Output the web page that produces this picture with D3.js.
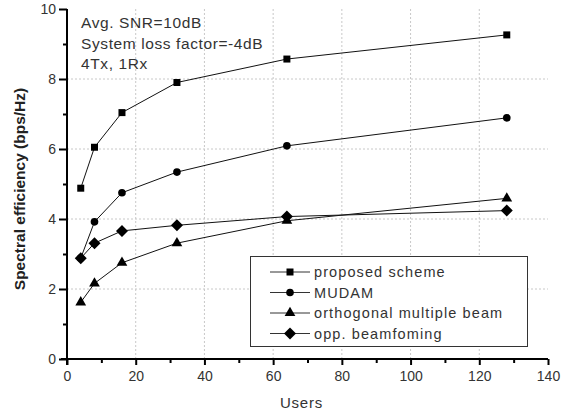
<!DOCTYPE html>
<html>
<head>
<meta charset="utf-8">
<script src="https://cdn.jsdelivr.net/npm/d3@7"></script>
<style>
  body { margin: 0; background: #fff; }
  text { font-family: "Liberation Sans", Arial, sans-serif; }
</style>
</head>
<body>
<svg id="chart"></svg>
<script>
// Data
const users = [4, 8, 16, 32, 64, 128];
const proposed = [4.88, 6.05, 7.04, 7.9, 8.57, 9.26];
const mudam = [2.88, 3.92, 4.75, 5.34, 6.09, 6.89];
const orthogonal = [1.62, 2.16, 2.75, 3.31, 3.95, 4.59];
const oppBeam = [2.88, 3.31, 3.66, 3.82, 4.07, 4.24];
const seriesNames = ["proposed scheme", "MUDAM", "orthogonal multiple beam", "opp. beamfoming"];
const markers = ["square", "circle", "triangle", "diamond"];
const notes = ["Avg. SNR=10dB", "System loss factor=-4dB", "4Tx, 1Rx"];
const xTicks = [0, 20, 40, 60, 80, 100, 120, 140];
const yTicks = [0, 2, 4, 6, 8, 10];

const width = 569;
const height = 417;
const svg = d3.select("#chart")
    .attr("width", width)
    .attr("height", height);

const x = d3.scaleLinear().domain([0, 140]).range([67, 548]);
const y = d3.scaleLinear().domain([0, 10]).range([359, 9]);

// Dotted grid
svg.append("g")
    .selectAll("line")
    .data(xTicks.filter(d => d > 0 && d < 140))
    .join("line")
    .attr("x1", d => x(d)).attr("x2", d => x(d))
    .attr("y1", y(10)).attr("y2", y(0))
    .attr("stroke", "#c8c8c8")
    .attr("stroke-dasharray", "2,2");

svg.append("g")
    .selectAll("line")
    .data(yTicks.filter(d => d > 0 && d < 10))
    .join("line")
    .attr("x1", x(0)).attr("x2", x(140))
    .attr("y1", d => y(d)).attr("y2", d => y(d))
    .attr("stroke", "#c8c8c8")
    .attr("stroke-dasharray", "2,2");

// Axes
const xAxis = svg.append("g")
    .attr("transform", `translate(0,${y(0)})`)
    .call(d3.axisBottom(x).tickValues(d3.range(0, 141, 10)).tickSize(6).tickFormat(d => d % 20 === 0 ? d : ""));
xAxis.select(".domain").attr("stroke", "#000").attr("stroke-width", 2).attr("d", `M${x(0) - 6},0H${x(140)}`);
xAxis.selectAll(".tick line").attr("stroke", "#000").attr("stroke-width", 2)
    .attr("y2", d => d % 20 === 0 ? 6 : 4);
xAxis.selectAll(".tick text").attr("fill", "#333").attr("font-size", 14).attr("dy", "0.95em");

const yAxis = svg.append("g")
    .attr("transform", `translate(${x(0)},0)`)
    .call(d3.axisLeft(y).tickValues(d3.range(0, 11, 1)).tickSize(6).tickFormat(d => d % 2 === 0 ? d : ""));
yAxis.select(".domain").attr("stroke", "#000").attr("stroke-width", 2).attr("d", `M0,${y(0) + 6}V${y(10)}`);
yAxis.selectAll(".tick line").attr("stroke", "#000").attr("stroke-width", 2)
    .attr("x2", d => d % 2 === 0 ? -8 : -4);
yAxis.selectAll(".tick text").attr("fill", "#333").attr("font-size", 14).attr("x", -11);

// Axis titles
svg.append("text")
    .attr("x", x(70) - 6).attr("y", 408)
    .attr("text-anchor", "middle")
    .attr("font-size", 15).attr("letter-spacing", 0.8).attr("fill", "#333")
    .text("Users");

svg.append("text")
    .attr("transform", `translate(25,189) rotate(-90)`)
    .attr("text-anchor", "middle")
    .attr("font-size", 15.5).attr("font-weight", "bold").attr("fill", "#222")
    .text("Spectral efficiency (bps/Hz)");

// Annotations
svg.append("g")
    .selectAll("text")
    .data(notes)
    .join("text")
    .attr("x", 81).attr("y", (d, i) => 28 + i * 20.5)
    .attr("font-size", 15.5).attr("letter-spacing", 0.6).attr("fill", "#333")
    .text(d => d);

// Marker drawing
const diamond = {
    draw(ctx, size) {
        const r = Math.sqrt(size / 2);
        ctx.moveTo(0, -r);
        ctx.lineTo(r, 0);
        ctx.lineTo(0, r);
        ctx.lineTo(-r, 0);
        ctx.closePath();
    }
};
const symbolFor = {
    square: d3.symbol(d3.symbolSquare, 49),
    circle: d3.symbol(d3.symbolCircle, 46),
    triangle: d3.symbol(d3.symbolTriangle, 50),
    diamond: d3.symbol(diamond, 72)
};

const allSeries = [proposed, mudam, orthogonal, oppBeam];
const line = d3.line().x((d, i) => x(users[i])).y(d => y(d));

allSeries.forEach((vals, k) => {
    svg.append("path")
        .datum(vals)
        .attr("d", line)
        .attr("fill", "none")
        .attr("stroke", "#111")
        .attr("stroke-width", 1);
    svg.append("g")
        .selectAll("path")
        .data(vals)
        .join("path")
        .attr("transform", (d, i) => `translate(${x(users[i])},${y(d)})`)
        .attr("d", symbolFor[markers[k]]())
        .attr("fill", "#000");
});

// Legend
const legend = svg.append("g");
legend.append("rect")
    .attr("x", 250.5).attr("y", 256.5)
    .attr("width", 277).attr("height", 90)
    .attr("fill", "#fff").attr("stroke", "#333");

seriesNames.forEach((name, k) => {
    const ly = 272 + k * 20.5;
    legend.append("line")
        .attr("x1", 270).attr("x2", 310)
        .attr("y1", ly).attr("y2", ly)
        .attr("stroke", "#333");
    legend.append("path")
        .attr("transform", `translate(290,${ly})`)
        .attr("d", symbolFor[markers[k]]())
        .attr("fill", "#000");
    legend.append("text")
        .attr("x", 314).attr("y", ly + 5)
        .attr("font-size", 14.5).attr("letter-spacing", 1.1).attr("fill", "#333")
        .text(name);
});
</script>
</body>
</html>
